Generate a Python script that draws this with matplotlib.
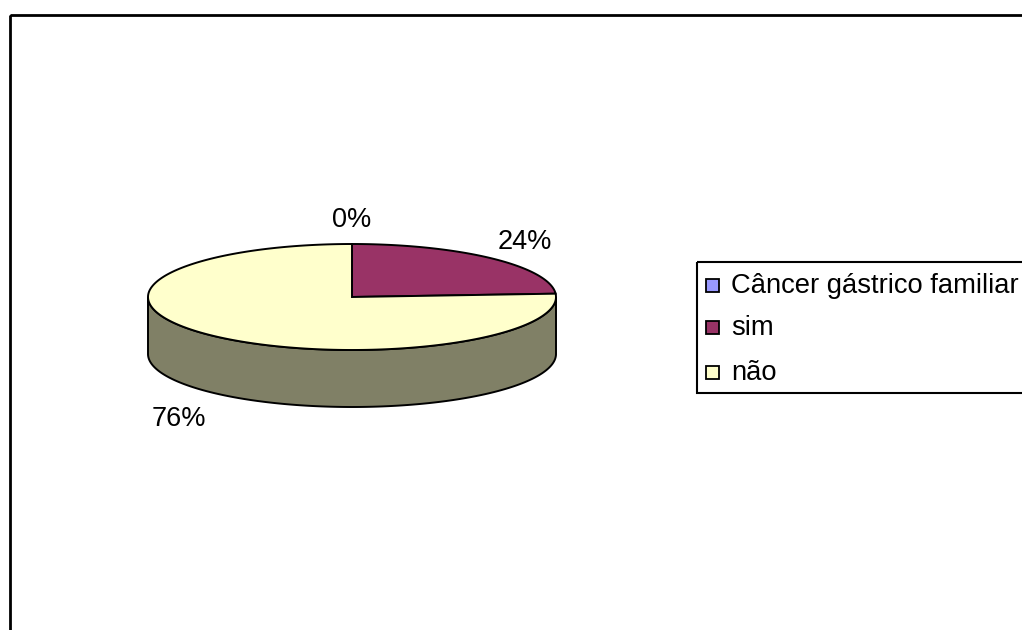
import numpy as np
import matplotlib.pyplot as plt
from matplotlib.patches import Polygon, Rectangle

# Dados do gráfico
categorias = ["Câncer gástrico familiar", "sim", "não"]
valores = [0, 24, 76]
cores = ["#9999FF", "#993366", "#FFFFCC"]
cores_lado = ["#4D4D80", "#4D1A33", "#808066"]

plt.rcParams["font.family"] = ["Liberation Sans", "DejaVu Sans"]

fig = plt.figure(figsize=(10.22, 6.3), dpi=100)
ax = fig.add_axes([0, 0, 1, 1])
ax.set_xlim(0, 1022)
ax.set_ylim(630, 0)
ax.axis("off")

# moldura do gráfico
ax.add_patch(Rectangle((10, 15), 1100, 700, fill=False, ec="black", lw=2, clip_on=False))

# pizza 3D: centro, raios da elipse e espessura
cx, cy, rx, ry, prof = 352, 297, 204, 53, 57


def arco(a0, a1, dy=0, n=200):
    t = np.radians(np.linspace(a0, a1, n))
    return np.column_stack([cx + rx * np.cos(t), cy - ry * np.sin(t) + dy])


total = sum(valores)
inicio = 90.0
fatias = []
for v in valores:
    fim = inicio - 360 * v / total
    fatias.append((inicio, fim))
    inicio = fim

# lateral (só a parte da frente aparece)
for (a0, a1), cor in zip(fatias, cores_lado):
    hi = min(a0, 0)
    lo = max(a1, -180)
    if lo < hi:
        pts = np.vstack([arco(hi, lo), arco(lo, hi, prof)])
        ax.add_patch(Polygon(pts, closed=True, fc=cor, ec="black", lw=1.4))

# tampa
for (a0, a1), cor, v in zip(fatias, cores, valores):
    if v == 0:
        continue
    pts = np.vstack([[cx, cy], arco(a0, a1)])
    ax.add_patch(Polygon(pts, closed=True, fc=cor, ec="black", lw=1.4, joinstyle="miter"))

# rótulos de porcentagem
for (a0, a1), v in zip(fatias, valores):
    m = np.radians((a0 + a1) / 2)
    x = cx + 1.24 * rx * np.cos(m)
    y = cy - 1.55 * ry * np.sin(m) + 5
    if np.sin(m) < 0:
        y += prof
    ax.text(x, y, f"{v / total * 100:.0f}%", ha="center", va="center", fontsize=19.5)

# legenda
ax.add_patch(Rectangle((697, 262), 400, 131, fill=False, ec="black", lw=1.5, clip_on=False))
linhas_y = [286, 328, 373]
for nome, cor, y in zip(categorias, cores, linhas_y):
    ax.add_patch(Rectangle((706, y - 7), 13, 13, fc=cor, ec="black", lw=1.3))
    ax.text(731, y, nome, ha="left", va="center", fontsize=19.7)

fig.savefig("out.png", dpi=100)
